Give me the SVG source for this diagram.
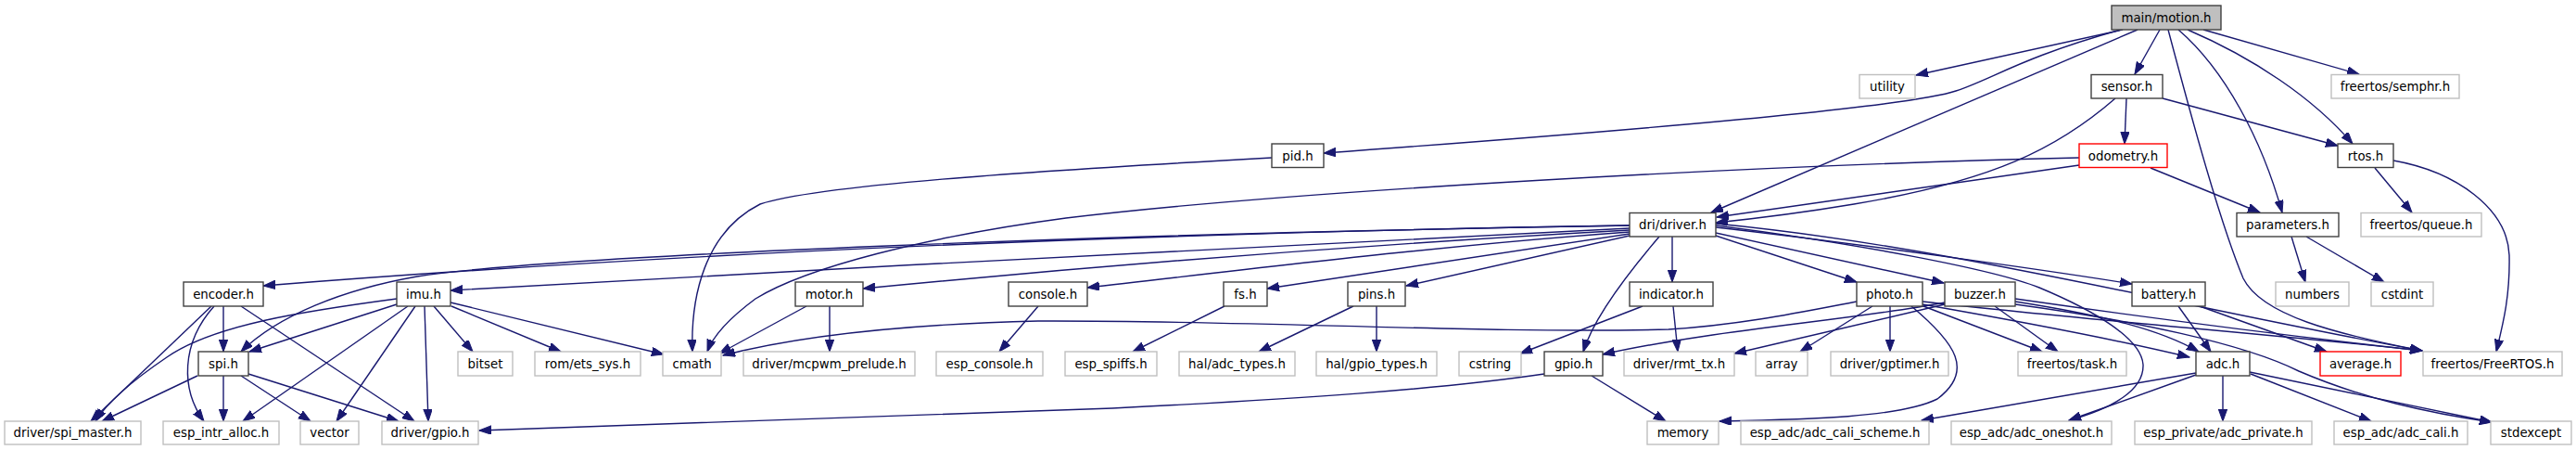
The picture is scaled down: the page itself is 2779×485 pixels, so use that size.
<svg xmlns="http://www.w3.org/2000/svg" width="2779" height="485" viewBox="0 0 2779 485">
<style>
text{font-family:"DejaVu Sans","Liberation Sans",sans-serif;font-size:13.33px;fill:#000;text-anchor:middle}
rect{stroke-width:1.4}
.n rect{fill:#fff;stroke:#404040}
.x rect{fill:#fff;stroke:#bfbfbf}
.r rect{fill:#fff;stroke:#ff0000}
.root rect{fill:#bfbfbf;stroke:#404040}
#edges path{fill:none;stroke:#191970;stroke-width:1.4;marker-end:url(#ah)}
</style>
<defs>
<marker id="ah" markerUnits="userSpaceOnUse" markerWidth="14" markerHeight="10" refX="13" refY="4.7" orient="auto"><path d="M0,0 L13,4.7 L0,9.4 z" fill="#191970" stroke="#191970"/></marker>
</defs>
<rect width="2779" height="485" fill="#fff"/>
<g id="edges">
<path d="M2290,32 L2067,81"/>
<path d="M2288,32 C2180,62 2150,85 2110,98 C2060,115 1800,138 1428,165"/>
<path d="M2306,32 L1846,229"/>
<path d="M2330,32 L2303,80"/>
<path d="M2339,32 C2365,130 2395,240 2420,300 C2440,340 2520,360 2613,378"/>
<path d="M2350,32 C2400,75 2440,150 2462,229"/>
<path d="M2360,32 C2430,62 2495,105 2538,155"/>
<path d="M2377,32 L2545,80"/>
<path d="M2294,106 L2292,155"/>
<path d="M2333,106 L2522,157"/>
<path d="M2282,106 C2220,160 2150,195 2000,220 C1940,230 1880,237 1851,240"/>
<path d="M2243,178 L1852,234"/>
<path d="M2320,181 L2438,229"/>
<path d="M2243,170 C1900,178 1400,205 1150,235 C1000,255 870,288 815,322 C788,342 770,360 763,379"/>
<path d="M1372,170 C1100,185 880,200 820,220 C760,250 745,320 747,379"/>
<path d="M2562,181 L2602,229"/>
<path d="M2582,173 C2650,185 2705,225 2707,275 C2708,320 2700,350 2693,379"/>
<path d="M2472,255 L2487,304"/>
<path d="M2488,255 L2572,304"/>
<path d="M1758,243 C1200,252 700,275 284,308"/>
<path d="M1758,243 C1200,252 600,275 450,298 C370,312 300,340 260,379"/>
<path d="M1758,246 C1400,262 900,290 486,313"/>
<path d="M1758,248 C1500,262 1200,285 931,311"/>
<path d="M1758,250 C1550,265 1350,290 1173,310"/>
<path d="M1758,252 L1367,311"/>
<path d="M1758,254 L1517,308"/>
<path d="M1790,255 C1760,290 1720,340 1708,379"/>
<path d="M1804,255 L1804,304"/>
<path d="M1851,254 L2003,304"/>
<path d="M1851,251 L2097,305"/>
<path d="M1851,245 C2000,262 2200,290 2300,306"/>
<path d="M1851,243 C2000,262 2150,290 2200,310 C2260,335 2310,365 2312,393 C2313,420 2280,440 2232,453"/>
<path d="M1851,241 C2100,265 2350,330 2613,378"/>
<path d="M241,330 L241,379"/>
<path d="M228,330 L98,454"/>
<path d="M231,330 C195,370 195,420 220,454"/>
<path d="M260,330 L447,454"/>
<path d="M428,322 C330,335 230,350 180,385 C140,412 115,435 103,454"/>
<path d="M428,328 L269,379"/>
<path d="M440,330 L262,454"/>
<path d="M448,330 L363,454"/>
<path d="M458,330 L462,454"/>
<path d="M468,330 L510,379"/>
<path d="M487,330 L605,379"/>
<path d="M486,326 L716,382"/>
<path d="M213,405 L110,454"/>
<path d="M241,405 L241,454"/>
<path d="M260,405 L335,454"/>
<path d="M268,403 L430,454"/>
<path d="M870,330 L776,381"/>
<path d="M895,330 L895,379"/>
<path d="M1120,330 L1078,379"/>
<path d="M1321,330 L1222,379"/>
<path d="M1460,330 L1358,379"/>
<path d="M1485,330 L1485,379"/>
<path d="M1772,330 L1640,381"/>
<path d="M1805,330 L1810,379"/>
<path d="M1666,403 C1550,420 1400,430 1200,440 C900,452 700,458 517,464"/>
<path d="M1717,405 L1797,454"/>
<path d="M2003,325 C1950,335 1880,350 1800,355 C1600,360 1350,345 1120,346 C950,350 850,365 780,383"/>
<path d="M2098,326 C2000,345 1850,355 1729,382"/>
<path d="M2020,330 L1942,379"/>
<path d="M2039,330 L2039,379"/>
<path d="M2075,330 L2203,379"/>
<path d="M2062,330 C2110,370 2130,400 2090,430 C2050,450 1950,452 1855,454"/>
<path d="M2074,325 C2250,345 2450,360 2613,378"/>
<path d="M2074,328 C2200,350 2300,370 2362,385"/>
<path d="M2098,328 L1871,381"/>
<path d="M2152,330 L2220,379"/>
<path d="M2174,322 C2300,340 2450,360 2613,378"/>
<path d="M2174,325 C2270,340 2330,355 2372,379"/>
<path d="M2174,328 C2300,345 2420,370 2480,400 C2550,430 2620,445 2688,455"/>
<path d="M2350,330 L2385,379"/>
<path d="M2373,330 L2510,379"/>
<path d="M2398,405 L2398,454"/>
<path d="M2428,403 L2558,454"/>
<path d="M2427,401 L2688,455"/>
<path d="M2369,402 L2073,453"/>
<path d="M2369,404 L2232,453"/>
</g>
<g id="n_main" class="root"><rect x="2278" y="6" width="118" height="26"/><text x="2337" y="23.5">main/motion.h</text></g>
<g id="n_utility" class="x"><rect x="2006" y="80.5" width="60" height="25.5"/><text x="2036" y="98">utility</text></g>
<g id="n_sensor" class="n"><rect x="2256" y="80.5" width="77" height="25.5"/><text x="2294.5" y="98">sensor.h</text></g>
<g id="n_semphr" class="x"><rect x="2515" y="80.5" width="138" height="25.5"/><text x="2584" y="98">freertos/semphr.h</text></g>
<g id="n_pid" class="n"><rect x="1372" y="155" width="56" height="25.5"/><text x="1400" y="172.5">pid.h</text></g>
<g id="n_odometry" class="r"><rect x="2243" y="155" width="95" height="25.5"/><text x="2290.5" y="172.5">odometry.h</text></g>
<g id="n_rtos" class="n"><rect x="2522" y="155" width="60" height="25.5"/><text x="2552" y="172.5">rtos.h</text></g>
<g id="n_driver" class="n"><rect x="1758" y="229.5" width="93" height="25.5"/><text x="1804.5" y="247">dri/driver.h</text></g>
<g id="n_parameters" class="n"><rect x="2413" y="229.5" width="110" height="25.5"/><text x="2468" y="247">parameters.h</text></g>
<g id="n_queue" class="x"><rect x="2547" y="229.5" width="130" height="25.5"/><text x="2612" y="247">freertos/queue.h</text></g>
<g id="n_encoder" class="n"><rect x="198" y="304" width="86" height="26"/><text x="241" y="321.5">encoder.h</text></g>
<g id="n_imu" class="n"><rect x="428" y="304" width="58" height="26"/><text x="457" y="321.5">imu.h</text></g>
<g id="n_motor" class="n"><rect x="858" y="304" width="73" height="26"/><text x="894.5" y="321.5">motor.h</text></g>
<g id="n_console" class="n"><rect x="1088" y="304" width="85" height="26"/><text x="1130.5" y="321.5">console.h</text></g>
<g id="n_fs" class="n"><rect x="1320" y="304" width="47" height="26"/><text x="1343.5" y="321.5">fs.h</text></g>
<g id="n_pins" class="n"><rect x="1454" y="304" width="62" height="26"/><text x="1485" y="321.5">pins.h</text></g>
<g id="n_indicator" class="n"><rect x="1758" y="304" width="90" height="26"/><text x="1803" y="321.5">indicator.h</text></g>
<g id="n_photo" class="n"><rect x="2003" y="304" width="71" height="26"/><text x="2038.5" y="321.5">photo.h</text></g>
<g id="n_buzzer" class="n"><rect x="2098" y="304" width="76" height="26"/><text x="2136" y="321.5">buzzer.h</text></g>
<g id="n_battery" class="n"><rect x="2300" y="304" width="79" height="26"/><text x="2339.5" y="321.5">battery.h</text></g>
<g id="n_numbers" class="x"><rect x="2455" y="304" width="79" height="26"/><text x="2494.5" y="321.5">numbers</text></g>
<g id="n_cstdint" class="x"><rect x="2558" y="304" width="67" height="26"/><text x="2591.5" y="321.5">cstdint</text></g>
<g id="n_spi" class="n"><rect x="214" y="379" width="54" height="26"/><text x="241" y="396.5">spi.h</text></g>
<g id="n_bitset" class="x"><rect x="494" y="379" width="59" height="26"/><text x="523.5" y="396.5">bitset</text></g>
<g id="n_ets" class="x"><rect x="577" y="379" width="114" height="26"/><text x="634" y="396.5">rom/ets_sys.h</text></g>
<g id="n_cmath" class="x"><rect x="715" y="379" width="63" height="26"/><text x="746.5" y="396.5">cmath</text></g>
<g id="n_mcpwm" class="x"><rect x="802" y="379" width="185" height="26"/><text x="894.5" y="396.5">driver/mcpwm_prelude.h</text></g>
<g id="n_espconsole" class="x"><rect x="1010" y="379" width="115" height="26"/><text x="1067.5" y="396.5">esp_console.h</text></g>
<g id="n_spiffs" class="x"><rect x="1149" y="379" width="99" height="26"/><text x="1198.5" y="396.5">esp_spiffs.h</text></g>
<g id="n_adctypes" class="x"><rect x="1272" y="379" width="125" height="26"/><text x="1334.5" y="396.5">hal/adc_types.h</text></g>
<g id="n_gpiotypes" class="x"><rect x="1420" y="379" width="130" height="26"/><text x="1485" y="396.5">hal/gpio_types.h</text></g>
<g id="n_cstring" class="x"><rect x="1574" y="379" width="67" height="26"/><text x="1607.5" y="396.5">cstring</text></g>
<g id="n_gpio" class="n"><rect x="1666" y="379" width="63" height="26"/><text x="1697.5" y="396.5">gpio.h</text></g>
<g id="n_rmttx" class="x"><rect x="1752" y="379" width="119" height="26"/><text x="1811.5" y="396.5">driver/rmt_tx.h</text></g>
<g id="n_array" class="x"><rect x="1894" y="379" width="56" height="26"/><text x="1922" y="396.5">array</text></g>
<g id="n_gptimer" class="x"><rect x="1975" y="379" width="127" height="26"/><text x="2038.5" y="396.5">driver/gptimer.h</text></g>
<g id="n_task" class="x"><rect x="2177" y="379" width="117" height="26"/><text x="2235.5" y="396.5">freertos/task.h</text></g>
<g id="n_adc" class="n"><rect x="2369" y="379" width="58" height="26"/><text x="2398" y="396.5">adc.h</text></g>
<g id="n_average" class="r"><rect x="2503" y="379" width="87" height="26"/><text x="2546.5" y="396.5">average.h</text></g>
<g id="n_freertos" class="x"><rect x="2614" y="379" width="150" height="26"/><text x="2689" y="396.5">freertos/FreeRTOS.h</text></g>
<g id="n_spimaster" class="x"><rect x="5" y="454" width="147" height="25"/><text x="78.5" y="471">driver/spi_master.h</text></g>
<g id="n_intralloc" class="x"><rect x="176" y="454" width="125" height="25"/><text x="238.5" y="471">esp_intr_alloc.h</text></g>
<g id="n_vector" class="x"><rect x="324" y="454" width="63" height="25"/><text x="355.5" y="471">vector</text></g>
<g id="n_drvgpio" class="x"><rect x="412" y="454" width="104" height="25"/><text x="464" y="471">driver/gpio.h</text></g>
<g id="n_memory" class="x"><rect x="1777" y="454" width="77" height="25"/><text x="1815.5" y="471">memory</text></g>
<g id="n_calischeme" class="x"><rect x="1878" y="454" width="203" height="25"/><text x="1979.5" y="471">esp_adc/adc_cali_scheme.h</text></g>
<g id="n_oneshot" class="x"><rect x="2105" y="454" width="173" height="25"/><text x="2191.5" y="471">esp_adc/adc_oneshot.h</text></g>
<g id="n_adcprivate" class="x"><rect x="2303" y="454" width="191" height="25"/><text x="2398.5" y="471">esp_private/adc_private.h</text></g>
<g id="n_adccali" class="x"><rect x="2518" y="454" width="144" height="25"/><text x="2590" y="471">esp_adc/adc_cali.h</text></g>
<g id="n_stdexcept" class="x"><rect x="2687" y="454" width="87" height="25"/><text x="2730.5" y="471">stdexcept</text></g>
</svg>
